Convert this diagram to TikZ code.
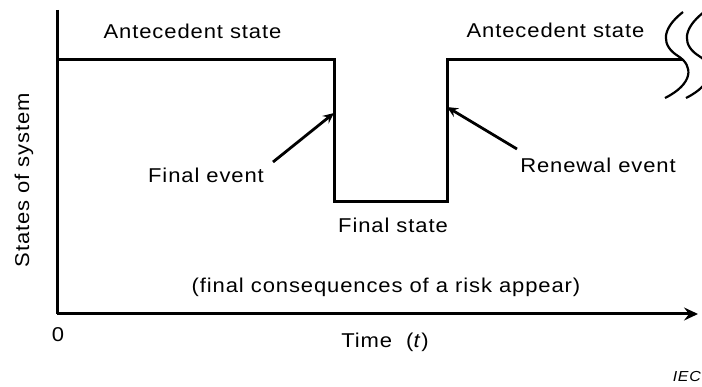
\documentclass[tikz,border=0pt]{standalone}
\usepackage{fontspec}
\setmainfont{Liberation Sans}[FakeStretch=1.1, LetterSpace=4.5]
\usetikzlibrary{arrows.meta}
\begin{document}
\begin{tikzpicture}[x=1pt,y=-1pt,
  lbl/.style={font=\fontsize{20}{23}\selectfont, inner sep=0pt, anchor=base},
  thick line/.style={line width=3pt, line join=miter},
  axisarrow/.style={thick line, -{Stealth[length=14pt,width=13pt,inset=5pt]}},
  eventarrow/.style={line width=2.8pt, -{Stealth[length=11pt,width=10pt,inset=4pt]}},
  breakline/.style={line width=2.2pt}]
\useasboundingbox (0,0) rectangle (702,387);

% axes
\coordinate (top) at (57,10);
\coordinate (origin) at (57,314);
\coordinate (tend) at (698,314);
\draw[thick line] (top) -- (origin);
\draw[axisarrow] (origin) -- (tend);

% state levels of the system
\coordinate (s0) at (57,60);
\coordinate (f1) at (334,60);
\coordinate (f2) at (334,202);
\coordinate (r1) at (447,202);
\coordinate (r2) at (447,60);
\coordinate (s1) at (683,60);
\draw[thick line] (s0) -- (f1) -- (f2) -- (r1) -- (r2) -- (s1);

% continuation (break) marks
\draw[breakline] (683,12) .. controls (660,30) and (662,46) .. (678,56)
                 .. controls (694,66) and (693,84) .. (665,98);
\draw[breakline] (704,12) .. controls (681,30) and (683,46) .. (699,56)
                 .. controls (715,66) and (714,84) .. (686,98);

% labels
\node[lbl] (ante1) at (192.5,39) {Antecedent state};
\node[lbl] (ante2) at (555.5,38) {Antecedent state};
\node[lbl] (fev) at (206,183) {Final event};
\node[lbl] (rev) at (598,173) {Renewal event};
\node[lbl] (fst) at (393,233) {Final state};
\node[lbl] (cons) at (386,292.5) {(final consequences of a risk appear)};
\node[lbl] (zero) at (58,342) {0};
\node[lbl] (time) at (385,347.5) {Time\ \ (\textit{t})};
\node[lbl, rotate=90, anchor=center] (ylab) at (24,180) {States of system};
\node[font=\fontsize{14.5}{17}\selectfont\itshape, inner sep=0pt, anchor=base east] (iec) at (701,382) {IEC};

% event pointers
\coordinate (fevtail) at (273,162);
\coordinate (fevtip) at (334,113);
\coordinate (revtail) at (517,149);
\coordinate (revtip) at (447,107);
\draw[eventarrow] (fevtail) -- (fevtip);
\draw[eventarrow] (revtail) -- (revtip);
\end{tikzpicture}
\end{document}
